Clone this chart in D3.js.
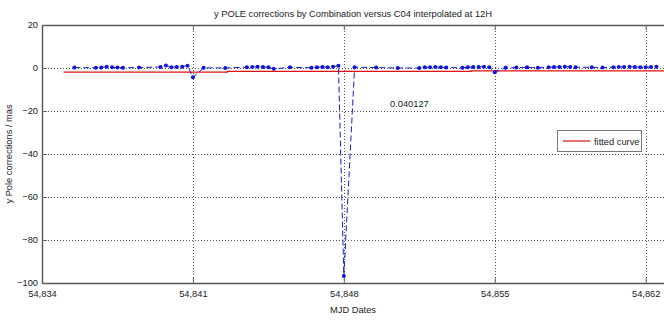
<!DOCTYPE html>
<html><head><meta charset="utf-8">
<script src="https://cdn.jsdelivr.net/npm/d3@7"></script>
<style>body{margin:0;background:#fff;} text{font-family:"Liberation Sans",Arial,sans-serif;}</style>
</head><body><svg id="c" width="664" height="320"></svg>
<script>
const BASE = 54834;
// offsets (days from 54834) of the observed points
const dayOffsets = [1.5,2.5,2.75,3.0,3.25,3.5,3.75,4.5,5.5,5.75,6.0,6.25,6.5,6.75,7.0,7.5,8.5,
  9.5,9.75,10.0,10.25,10.5,10.75,11.5,12.5,12.75,13.0,13.25,13.5,13.75,14.0,14.5,15.5,16.5,
  17.5,17.75,18.0,18.25,18.5,18.75,19.5,19.75,20.0,20.25,20.5,20.75,21.0,21.5,22.0,22.5,23.0,
  23.5,23.75,24.0,24.25,24.5,24.75,25.5,26.0,26.5,26.75,27.0,27.25,27.5,27.75,28.0,28.25,28.5];
const corrections = [0.2,0.1,0.2,0.6,0.3,0.2,0.1,0.2,0.5,1.2,0.4,0.5,0.6,1.1,-4.3,0.1,0.0,
  0.4,0.5,0.6,0.5,0.3,-0.4,0.3,0.1,0.3,0.5,0.4,0.6,1.0,-96.7,0.4,0.2,0.0,
  0.0,0.3,0.4,0.5,0.3,0.2,0.1,0.4,0.5,0.5,0.6,0.4,-2.0,0.1,0.2,0.3,0.1,
  0.3,0.5,0.5,0.6,0.5,0.4,0.3,0.2,0.4,0.5,0.5,0.6,0.5,0.3,0.4,0.5,0.6];
// fitted curve (piecewise constant)
const fitDays = [54835.0, 54842.6, 54842.6, 54853.9, 54853.9, 54862.85];
const fitValues = [-1.9, -1.9, -1.6, -1.6, -1.3, -1.3];
const xTicks = [54834, 54841, 54848, 54855, 54862];
const yTicks = [20, 0, -20, -40, -60, -80, -100];
const titleText = "y POLE corrections by Combination versus C04 interpolated at 12H";
const xLabel = "MJD Dates";
const yLabel = "y Pole corrections / mas";
const legendLabel = "fitted curve";
const annotation = "0.040127";

const FS = "9.3px";
const svg = d3.select("#c");
const L = 42, R = 664, T = 25, B = 283;
const x = d3.scaleLinear().domain([54834, 54862.85]).range([L, R]);
const y = d3.scaleLinear().domain([-100, 20]).range([B, T]);
const fmt = d3.format(",");

// grid
const g = svg.append("g");
g.selectAll(".gx").data(xTicks.slice(1)).enter().append("line")
  .attr("x1", d => Math.round(x(d)) + 0.5).attr("x2", d => Math.round(x(d)) + 0.5)
  .attr("y1", T).attr("y2", B).attr("stroke", "#555").attr("stroke-dasharray", "1,2");
g.selectAll(".gy").data(yTicks.slice(1, -1)).enter().append("line")
  .attr("y1", d => Math.round(y(d)) + 0.5).attr("y2", d => Math.round(y(d)) + 0.5)
  .attr("x1", L).attr("x2", R).attr("stroke", "#555").attr("stroke-dasharray", "1,2");

// axes
const xAxis = d3.axisBottom(x).tickValues(xTicks).tickFormat(fmt).tickSizeInner(-5).tickSizeOuter(0).tickPadding(7);
const yAxis = d3.axisLeft(y).tickValues(yTicks).tickSizeInner(-5).tickSizeOuter(0).tickPadding(4);
const xa = svg.append("g").attr("transform", `translate(0,${B})`).call(xAxis);
const xt = svg.append("g").attr("transform", `translate(0,${T})`).call(d3.axisTop(x).tickValues(xTicks).tickFormat("").tickSizeInner(-5).tickSizeOuter(0));
const ya = svg.append("g").attr("transform", `translate(${L},0)`).call(yAxis);
[xa, xt, ya].forEach(a => {
  a.select(".domain").attr("stroke", "#555").attr("stroke-width", 1.4);
  a.selectAll(".tick line").attr("stroke", "#666");
  a.selectAll("text").attr("fill", "#222").style("font-size", FS);
});

// fitted curve
const fitData = fitDays.map((d, i) => [d, fitValues[i]]);
svg.append("path").datum(fitData)
  .attr("d", d3.line().x(d => x(d[0])).y(d => y(d[1])))
  .attr("fill", "none").attr("stroke", "#e01010").attr("stroke-width", 1.2);

// data series
const pts = dayOffsets.map((d, i) => [BASE + d, corrections[i]]);
svg.append("path").datum(pts)
  .attr("d", d3.line().x(d => x(d[0])).y(d => y(d[1])))
  .attr("fill", "none").attr("stroke", "#1a1ad0").attr("stroke-width", 1).attr("stroke-dasharray", "6,3");
svg.selectAll(".pt").data(pts).enter().append("circle")
  .attr("cx", d => x(d[0])).attr("cy", d => y(d[1])).attr("r", 2).attr("fill", "#1010e0");

// texts
svg.append("text").attr("x", (L + R) / 2).attr("y", 17).attr("text-anchor", "middle")
  .style("font-size", FS).attr("fill", "#222").text(titleText);
svg.append("text").attr("x", (L + R) / 2).attr("y", 313).attr("text-anchor", "middle")
  .style("font-size", FS).attr("fill", "#222").text(xLabel);
svg.append("text").attr("transform", `translate(12,${(T + B) / 2}) rotate(-90)`).attr("text-anchor", "middle")
  .style("font-size", FS).attr("fill", "#222").text(yLabel);
svg.append("text").attr("x", 390).attr("y", 107).style("font-size", FS).attr("fill", "#222").text(annotation);

// legend
const lg = svg.append("g");
lg.append("rect").attr("x", 557.5).attr("y", 130.5).attr("width", 84).attr("height", 21)
  .attr("fill", "#fff").attr("stroke", "#777");
lg.append("line").attr("x1", 563).attr("x2", 590).attr("y1", 141).attr("y2", 141).attr("stroke", "#e01010").attr("stroke-width", 1.2);
lg.append("text").attr("x", 594).attr("y", 144.5).style("font-size", FS).attr("fill", "#222").text(legendLabel);
</script></body></html>
